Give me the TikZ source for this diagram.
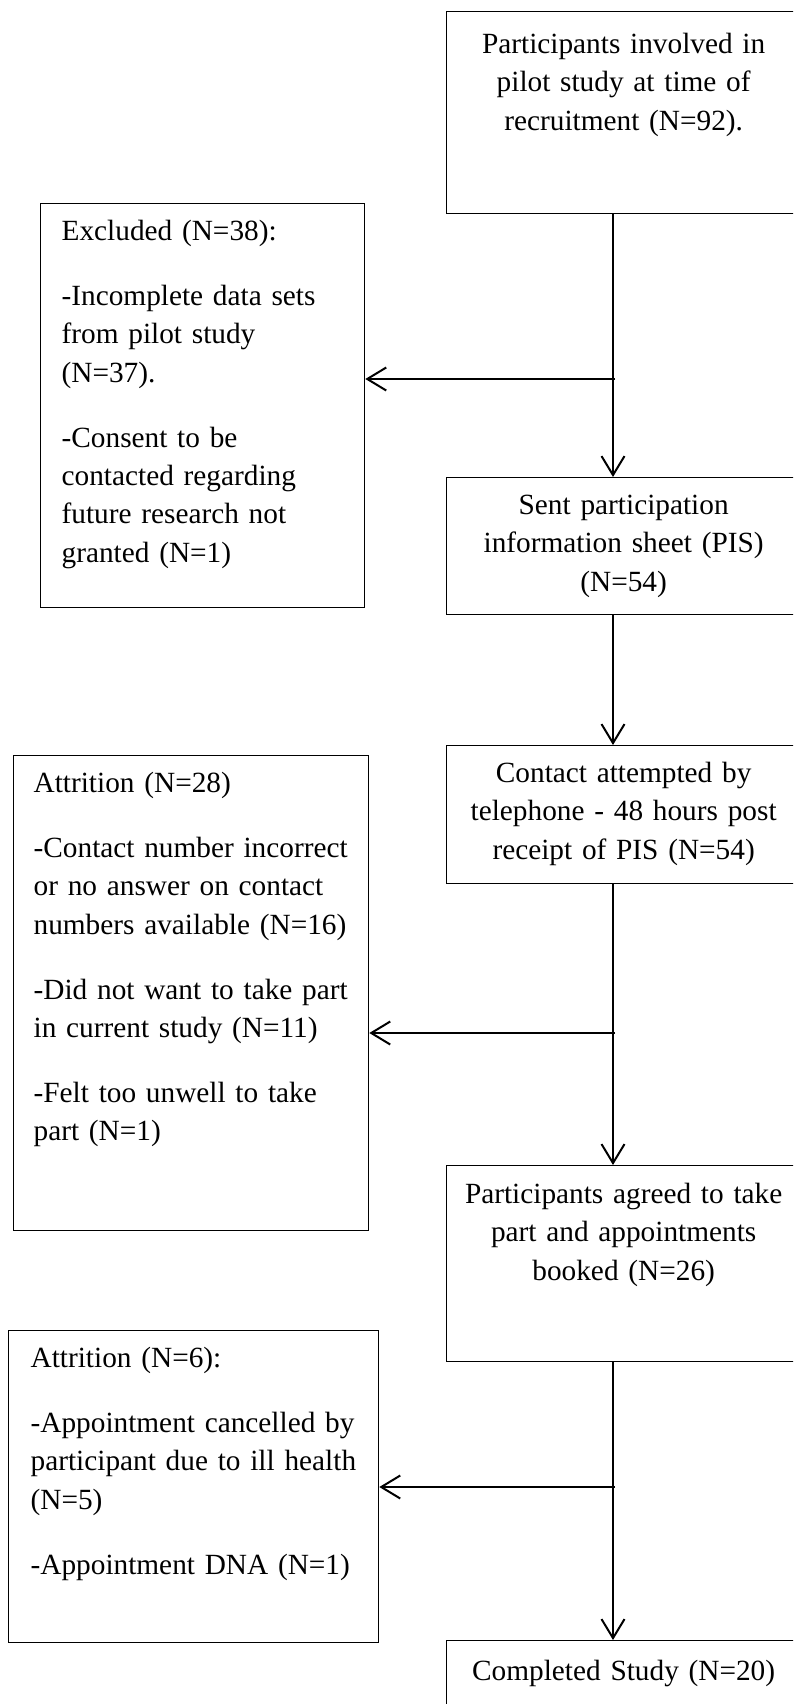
\documentclass[tikz,border=0pt]{standalone}
\usepackage{fontspec}
\setmainfont{Liberation Serif}
\usetikzlibrary{arrows.meta}

\tikzset{
  box/.style={draw, line width=1.3pt, inner ysep=0pt, anchor=north west,
    text height=37pt, font=\fontsize{29.3}{38.3}\selectfont},
  stage/.style={box, inner xsep=10pt, text width=334pt, align=center},
  loss/.style={box, align=left},
  flow/.style={->, line width=2pt}
}

\begin{document}
\begin{tikzpicture}[x=1pt, y=-1pt, >={Straight Barb[length=19pt,width=23pt]}]
\useasboundingbox (0,0) rectangle (793,1704);
\clip (0,0) rectangle (793,1704);

\node[stage, text height=42pt, text depth=160pt] (recruit) at (446,11) {Participants involved in\\pilot study at time of\\recruitment (N=92).};
\node[stage, text depth=100pt] (pis) at (446,477) {Sent participation\\information sheet (PIS)\\(N=54)};
\node[stage, text depth=101pt] (contact) at (446,745) {Contact attempted by\\telephone - 48 hours post\\receipt of PIS (N=54)};
\node[stage, text height=38pt, text depth=158pt] (agreed) at (446,1165) {Participants agreed to take\\part and appointments\\booked (N=26)};
\node[stage, text height=40pt, text depth=60pt] (completed) at (446,1640) {Completed Study (N=20)};

\node[loss, inner xsep=21pt, text width=282pt, text depth=367pt] (excluded) at (40,203) {Excluded (N=38):\\[26.7pt]-Incomplete data sets\\from pilot study\\(N=37).\\[26.7pt]-Consent to be\\contacted regarding\\future research not\\granted (N=1)};
\node[loss, inner xsep=20pt, text width=315pt, text depth=438pt] (noreply) at (13,755) {Attrition (N=28)\\[26.7pt]-Contact number incorrect\\or no answer on contact\\numbers available (N=16)\\[26.7pt]-Did not want to take part\\in current study (N=11)\\[26.7pt]-Felt too unwell to take\\part (N=1)};
\node[loss, inner xsep=22pt, text width=326pt, text depth=275pt] (cancelled) at (8,1330) {Attrition (N=6):\\[26.7pt]-Appointment cancelled by\\participant due to ill health\\(N=5)\\[26.7pt]-Appointment DNA (N=1)};

\coordinate (spine) at (613,0);
\coordinate (cut1) at (615,379);
\coordinate (cut2) at (615,1033);
\coordinate (cut3) at (615,1487);

\draw[flow] (recruit.south -| spine) -- (pis.north -| spine);
\draw[flow] (pis.south -| spine) -- (contact.north -| spine);
\draw[flow] (contact.south -| spine) -- (agreed.north -| spine);
\draw[flow] (agreed.south -| spine) -- (completed.north -| spine);

\draw[flow] (cut1) -- (cut1 -| excluded.east);
\draw[flow] (cut2) -- (cut2 -| noreply.east);
\draw[flow] (cut3) -- (cut3 -| cancelled.east);
\end{tikzpicture}
\end{document}
